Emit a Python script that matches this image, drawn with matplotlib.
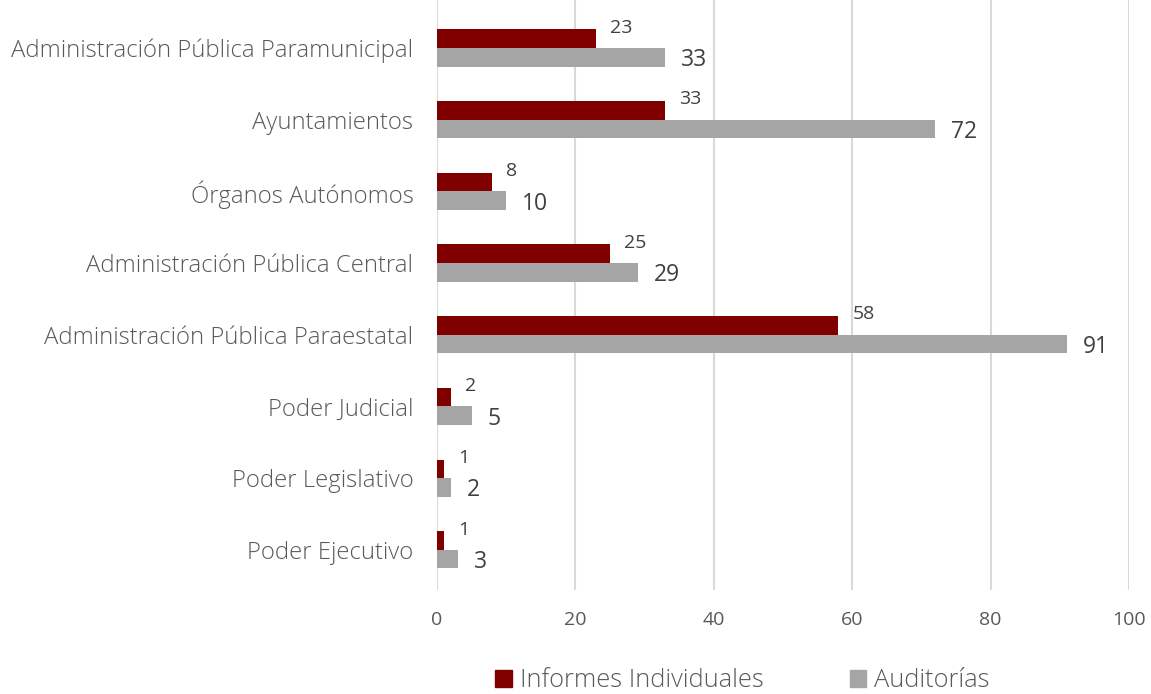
import matplotlib
matplotlib.use("Agg")
import matplotlib.pyplot as plt
import numpy as np
from matplotlib.patches import Patch

# categories from bottom to top
categorias = ["Poder Ejecutivo", "Poder Legislativo", "Poder Judicial",
              "Administración Pública Paraestatal", "Administración Pública Central",
              "Órganos Autónomos", "Ayuntamientos", "Administración Pública Paramunicipal"]
informes = [1, 1, 2, 58, 25, 8, 33, 23]
auditorias = [3, 2, 5, 91, 29, 10, 72, 33]
xticks = [0, 20, 40, 60, 80, 100]

rojo = "#800000"
gris = "#a5a5a5"
texto = "#595959"
fuente = ["Open Sans", "DejaVu Sans"]

fig = plt.figure(figsize=(11.51, 6.94), dpi=100)
ax = fig.add_axes([0.3797, 0.1499, 0.6012, 0.8501])

y = np.arange(len(categorias))
h = 0.26
ax.barh(y + h / 2, informes, height=h, color=rojo, zorder=3)
ax.barh(y - h / 2, auditorias, height=h, color=gris, zorder=3)

for i in range(len(categorias)):
    ax.annotate(str(informes[i]), (informes[i], y[i] + h / 2), xytext=(14, 11),
                textcoords="offset pixels", ha="left", va="center",
                fontsize=14, color="#404040", family=fuente)
    ax.annotate(str(auditorias[i]), (auditorias[i], y[i] - h / 2), xytext=(16, -3),
                textcoords="offset pixels", ha="left", va="center",
                fontsize=16.5, color="#404040", family=fuente)

ax.set_xlim(0, 100)
ax.set_ylim(-0.56, 7.67)
ax.set_xticks(xticks)
ax.set_xticklabels([str(t) for t in xticks], fontsize=14, color=texto, family=fuente)
ax.set_yticks(y)
ax.set_yticklabels(categorias, fontsize=17.2, color=texto, family=fuente,
                   fontweight="light")
ax.tick_params(axis="both", length=0)
ax.tick_params(axis="x", pad=15)
ax.tick_params(axis="y", pad=17)
ax.grid(axis="x", color="#d9d9d9", linewidth=1.5, zorder=0)
for s in ax.spines.values():
    s.set_visible(False)

handles = [Patch(color=rojo, label="Informes Individuales"),
           Patch(color=gris, label="Auditorías")]
fig.legend(handles=handles, loc="lower center", bbox_to_anchor=(0.645, -0.032),
           ncol=2, frameon=False, handlelength=0.65, handleheight=0.65,
           handletextpad=0.3, columnspacing=3.4,
           prop={"family": fuente, "size": 18.3, "weight": "light"}, labelcolor=texto)

fig.savefig("out.png", dpi=100)
